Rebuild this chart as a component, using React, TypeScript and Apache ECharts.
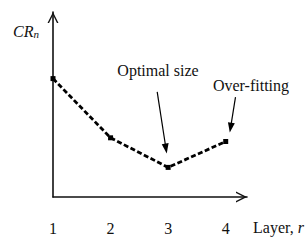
import React, { useEffect, useRef } from "react";
import * as echarts from "echarts";

const layers = [1, 2, 3, 4];
const layerLabels = ["1", "2", "3", "4"];
const crn = [0.64, 0.32, 0.16, 0.3];
const optimalArrow = [[2.81, 0.568], [2.962, 0.262]];
const overfitArrow = [[4.17, 0.54], [4.085, 0.375]];

const FONT = "Liberation Serif";
const chevron = "path://M0,10 L5,0 L10,10 L8.6,10 L5,2.8 L1.4,10 Z";

export default function App() {
  const ref = useRef<HTMLDivElement>(null);
  useEffect(() => {
    if (!ref.current) return;
    const chart = echarts.init(ref.current, undefined, { renderer: "svg" });
    chart.setOption({
      animation: false,
      backgroundColor: "#ffffff",
      grid: { left: 53, right: 60, top: 12, bottom: 43, containLabel: false },
      xAxis: {
        type: "value",
        min: 1,
        max: 4.37,
        interval: 1,
        axisLine: {
          show: true,
          symbol: ["none", chevron],
          symbolSize: [13, 11],
          symbolOffset: [0, -5.5],
          lineStyle: { color: "#111", width: 1.6 },
        },
        axisTick: { show: false },
        splitLine: { show: false },
        axisLabel: {
          margin: 23,
          color: "#111",
          fontFamily: FONT,
          fontSize: 16,
          showMaxLabel: false,
          formatter: (v: number) => {
            const i = layers.indexOf(v);
            return i >= 0 ? layerLabels[i] : "";
          },
        },
      },
      yAxis: {
        type: "value",
        min: 0,
        max: 1,
        axisLine: {
          show: true,
          symbol: ["none", chevron],
          symbolSize: [11, 11],
          symbolOffset: [0, -5.5],
          lineStyle: { color: "#111", width: 1.6 },
        },
        axisTick: { show: false },
        axisLabel: { show: false },
        splitLine: { show: false },
      },
      series: [
        {
          type: "line",
          data: layers.map((x, i) => [x, crn[i]]),
          symbol: "rect",
          symbolSize: 5,
          itemStyle: { color: "#000" },
          lineStyle: { color: "#000", width: 2.8, type: [5, 2.5] },
          clip: false,
          markLine: {
            silent: true,
            symbol: ["none", "triangle"],
            symbolSize: [7, 10],
            label: { show: false },
            lineStyle: { color: "#000", width: 1.2, type: "solid" },
            data: [
              [{ coord: optimalArrow[0] }, { coord: optimalArrow[1] }],
              [{ coord: overfitArrow[0] }, { coord: overfitArrow[1] }],
            ],
          },
        },
      ],
      graphic: [
        {
          type: "text",
          left: 13,
          top: 23,
          style: {
            text: "{a|CR}{b|n}",
            rich: {
              a: { fontFamily: FONT, fontSize: 16, fontStyle: "italic", fill: "#111" },
              b: { fontFamily: FONT, fontSize: 11, fontStyle: "italic", fill: "#111", padding: [6, 0, 0, 0] },
            },
          },
        },
        {
          type: "text",
          x: 158,
          y: 70,
          style: {
            text: "Optimal size",
            fontFamily: FONT,
            fontSize: 16,
            fill: "#111",
            align: "center",
            verticalAlign: "middle",
          },
        },
        {
          type: "text",
          x: 251,
          y: 85,
          style: {
            text: "Over-fitting",
            fontFamily: FONT,
            fontSize: 16,
            fill: "#111",
            align: "center",
            verticalAlign: "middle",
          },
        },
        {
          type: "text",
          x: 253,
          y: 227,
          style: {
            text: "{t|Layer, }{i|r}",
            verticalAlign: "middle",
            rich: {
              t: { fontFamily: FONT, fontSize: 16, fill: "#111" },
              i: { fontFamily: FONT, fontSize: 16, fontStyle: "italic", fill: "#111" },
            },
          },
        },
      ],
    });
    return () => chart.dispose();
  }, []);
  return <div ref={ref} style={{ width: 307, height: 240, position: "absolute", left: 0, top: 0 }} />;
}
